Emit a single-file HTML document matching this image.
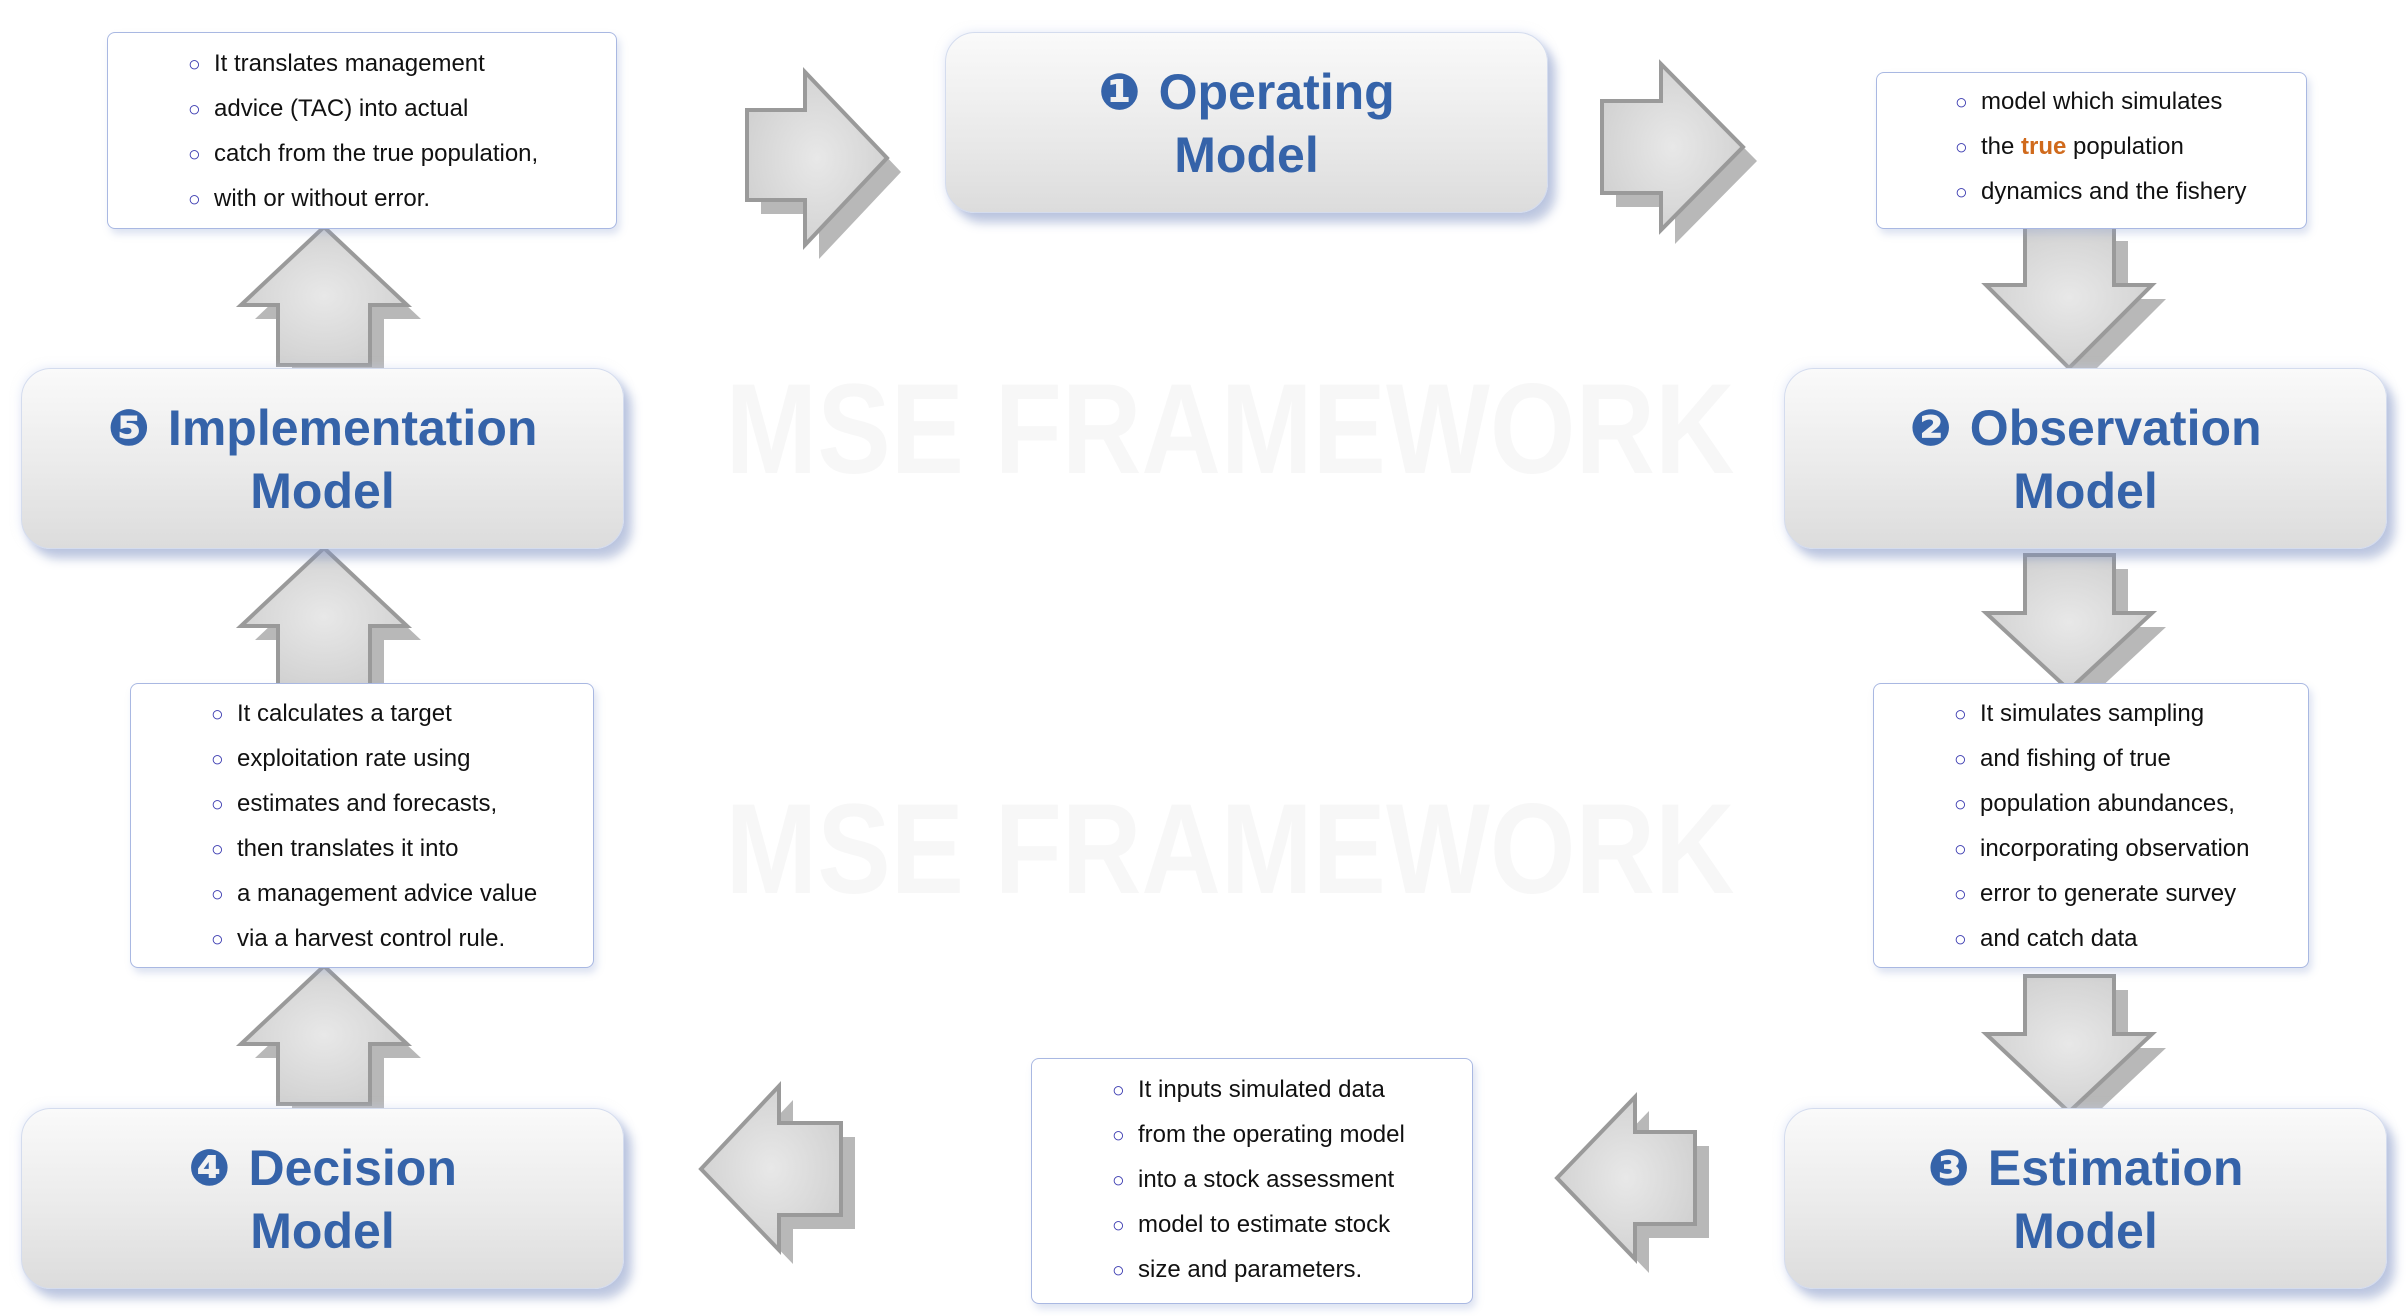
<!DOCTYPE html>
<html><head><meta charset="utf-8"><style>
html,body{margin:0;padding:0;background:#fff;}
body{width:2406px;height:1316px;position:relative;overflow:hidden;font-family:"Liberation Sans","DejaVu Sans",sans-serif;}
.wm{position:absolute;left:600px;width:1260px;text-align:center;font-weight:bold;font-size:128px;line-height:130px;color:#f7f7f7;white-space:nowrap;transform:scaleX(0.86);}
.model{position:absolute;width:603px;height:181px;box-sizing:border-box;border-radius:30px;border:1px solid #d4dcee;
background:linear-gradient(#fafafa,#e9e9e9 60%,#dcdcdc);box-shadow:8px 10px 10px rgba(120,140,190,0.45),0 0 10px rgba(200,210,240,0.5);
text-align:center;color:#3563a9;font-weight:bold;font-size:50px;line-height:63px;padding-top:28px;}
.model .n{font-family:"DejaVu Sans",sans-serif;font-size:50px;margin-right:18px;}
.tb{position:absolute;box-sizing:border-box;background:#fff;border:1.5px solid #a9b8e2;border-radius:8px;
box-shadow:3px 5px 8px rgba(140,160,210,0.3);font-size:24px;line-height:44px;color:#111;}
.tb div{white-space:nowrap;}
.tb div:before{content:"○";color:#3a3ab0;font-size:21px;display:inline-block;width:26px;vertical-align:0px;}
.t{color:#d06a1c;font-weight:bold;}
svg{position:absolute;left:0;top:0;}
</style></head><body>
<div class="wm" style="top:365px;">MSE FRAMEWORK</div>
<div class="wm" style="top:785px;">MSE FRAMEWORK</div>

<svg width="2406" height="1316" viewBox="0 0 2406 1316">
<defs><radialGradient id="g" cx="50%" cy="50%" r="60%"><stop offset="0" stop-color="#e8e8e8"/><stop offset="1" stop-color="#cfcfcf"/></radialGradient></defs>
<g fill="#b8b8b8">
<polygon transform="translate(14,14)" points="324,227 407,305 370,305 370,365 278,365 278,305 241,305"/>
<polygon transform="translate(14,14)" points="324,548 407,626 370,626 370,686 278,686 278,626 241,626"/>
<polygon transform="translate(14,14)" points="324,966 407,1044 370,1044 370,1104 278,1104 278,1044 241,1044"/>
<polygon transform="translate(14,14)" points="2025,227 2114,227 2114,285 2152,285 2069,368 1986,285 2025,285"/>
<polygon transform="translate(14,14)" points="2025,555 2114,555 2114,613 2152,613 2069,690 1986,613 2025,613"/>
<polygon transform="translate(14,14)" points="2025,976 2114,976 2114,1034 2152,1034 2069,1112 1986,1034 2025,1034"/>
<polygon transform="translate(14,14)" points="747,110 805,110 805,72 887,158 805,245 805,200 747,200"/>
<polygon transform="translate(14,14)" points="1602,101 1661,101 1661,64 1743,147 1661,230 1661,193 1602,193"/>
<polygon transform="translate(14,14)" points="701,1169 779,1086 779,1123 841,1123 841,1215 779,1215 779,1250"/>
<polygon transform="translate(14,14)" points="1557,1178 1635,1097 1635,1132 1695,1132 1695,1224 1635,1224 1635,1259"/>
</g>
<g fill="url(#g)" stroke="#9a9a9a" stroke-width="4" stroke-linejoin="miter">
<polygon points="324,227 407,305 370,305 370,365 278,365 278,305 241,305"/>
<polygon points="324,548 407,626 370,626 370,686 278,686 278,626 241,626"/>
<polygon points="324,966 407,1044 370,1044 370,1104 278,1104 278,1044 241,1044"/>
<polygon points="2025,227 2114,227 2114,285 2152,285 2069,368 1986,285 2025,285"/>
<polygon points="2025,555 2114,555 2114,613 2152,613 2069,690 1986,613 2025,613"/>
<polygon points="2025,976 2114,976 2114,1034 2152,1034 2069,1112 1986,1034 2025,1034"/>
<polygon points="747,110 805,110 805,72 887,158 805,245 805,200 747,200"/>
<polygon points="1602,101 1661,101 1661,64 1743,147 1661,230 1661,193 1602,193"/>
<polygon points="701,1169 779,1086 779,1123 841,1123 841,1215 779,1215 779,1250"/>
<polygon points="1557,1178 1635,1097 1635,1132 1695,1132 1695,1224 1635,1224 1635,1259"/>
</g>
</svg>

<div class="tb" style="left:107px;top:32px;width:510px;height:197px;padding:9px 0 0 80px;">
<div>It translates management</div><div>advice (TAC) into actual</div><div>catch from the true population,</div><div>with or without error.</div></div>

<div class="tb" style="left:1876px;top:72px;width:431px;height:157px;padding:7px 0 0 78px;">
<div>model which simulates</div><div>the <span class="t">true</span> population</div><div>dynamics and the fishery</div></div>

<div class="tb" style="left:130px;top:683px;width:464px;height:285px;padding:8px 0 0 80px;">
<div>It calculates a target</div><div>exploitation rate using</div><div>estimates and forecasts,</div><div>then translates it into</div><div>a management advice value</div><div>via a harvest control rule.</div></div>

<div class="tb" style="left:1873px;top:683px;width:436px;height:285px;padding:8px 0 0 80px;">
<div>It simulates sampling</div><div>and fishing of true</div><div>population abundances,</div><div>incorporating observation</div><div>error to generate survey</div><div>and catch data</div></div>

<div class="tb" style="left:1031px;top:1058px;width:442px;height:246px;padding:9px 0 0 80px;">
<div>It inputs simulated data</div><div>from the operating model</div><div>into a stock assessment</div><div>model to estimate stock</div><div>size and parameters.</div></div>

<div class="model" style="left:945px;top:32px;"><span class="n">❶</span>Operating<br>Model</div>
<div class="model" style="left:21px;top:368px;"><span class="n">❺</span>Implementation<br>Model</div>
<div class="model" style="left:1784px;top:368px;"><span class="n">❷</span>Observation<br>Model</div>
<div class="model" style="left:21px;top:1108px;"><span class="n">❹</span>Decision<br>Model</div>
<div class="model" style="left:1784px;top:1108px;"><span class="n">❸</span>Estimation<br>Model</div>
</body></html>
